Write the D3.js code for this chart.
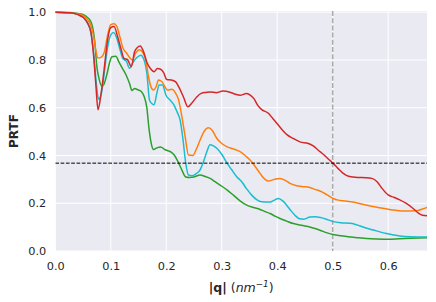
<!DOCTYPE html>
<html>
<head>
<meta charset="utf-8">
<script src="https://cdn.jsdelivr.net/npm/d3@7"></script>
<style>
  body { margin: 0; background: #fff; }
  text { font-family: "DejaVu Sans", sans-serif; fill: #262626; }
</style>
</head>
<body>
<div id="chart"></div>
<script>
// PRTF curves, [q, value] pairs
const redSeries = [[0,1.0],[0.02,0.998],[0.035,0.994],[0.045,0.985],[0.052,0.975],[0.058,0.955],[0.064,0.92],[0.069,0.82],[0.073,0.7],[0.077,0.592],[0.082,0.65],[0.088,0.76],[0.094,0.88],[0.1,0.935],[0.106,0.94],[0.112,0.9],[0.118,0.85],[0.124,0.806],[0.13,0.802],[0.137,0.772],[0.143,0.835],[0.148,0.852],[0.153,0.858],[0.159,0.835],[0.165,0.79],[0.171,0.765],[0.178,0.751],[0.184,0.764],[0.189,0.762],[0.195,0.748],[0.201,0.718],[0.209,0.716],[0.217,0.708],[0.223,0.685],[0.231,0.645],[0.239,0.604],[0.247,0.622],[0.255,0.645],[0.263,0.66],[0.272,0.664],[0.28,0.666],[0.29,0.663],[0.302,0.67],[0.315,0.665],[0.325,0.656],[0.333,0.652],[0.345,0.66],[0.352,0.652],[0.358,0.638],[0.365,0.61],[0.372,0.592],[0.384,0.577],[0.392,0.555],[0.4,0.533],[0.41,0.505],[0.418,0.486],[0.43,0.47],[0.442,0.456],[0.455,0.451],[0.465,0.44],[0.474,0.422],[0.483,0.405],[0.492,0.385],[0.501,0.367],[0.51,0.345],[0.519,0.325],[0.53,0.312],[0.545,0.308],[0.56,0.307],[0.572,0.303],[0.58,0.29],[0.588,0.265],[0.6,0.235],[0.61,0.225],[0.62,0.215],[0.632,0.2],[0.645,0.178],[0.655,0.158],[0.662,0.15],[0.67,0.148]];

const orangeSeries = [[0,1.0],[0.02,0.998],[0.035,0.995],[0.045,0.99],[0.052,0.983],[0.058,0.97],[0.064,0.945],[0.069,0.9],[0.073,0.84],[0.077,0.808],[0.083,0.812],[0.088,0.83],[0.094,0.9],[0.1,0.948],[0.106,0.952],[0.111,0.94],[0.116,0.9],[0.122,0.85],[0.128,0.83],[0.134,0.81],[0.139,0.8],[0.145,0.83],[0.152,0.843],[0.158,0.83],[0.163,0.8],[0.168,0.73],[0.172,0.69],[0.177,0.674],[0.182,0.69],[0.186,0.716],[0.192,0.71],[0.197,0.69],[0.202,0.674],[0.21,0.677],[0.217,0.66],[0.222,0.635],[0.228,0.565],[0.234,0.48],[0.24,0.402],[0.248,0.4],[0.254,0.425],[0.261,0.465],[0.268,0.5],[0.276,0.516],[0.283,0.505],[0.291,0.472],[0.3,0.45],[0.309,0.437],[0.32,0.428],[0.333,0.416],[0.343,0.398],[0.351,0.381],[0.36,0.355],[0.369,0.325],[0.377,0.302],[0.384,0.293],[0.395,0.3],[0.405,0.304],[0.415,0.295],[0.423,0.283],[0.435,0.273],[0.444,0.27],[0.459,0.266],[0.468,0.258],[0.477,0.251],[0.49,0.235],[0.501,0.22],[0.51,0.213],[0.519,0.21],[0.537,0.205],[0.55,0.198],[0.561,0.192],[0.575,0.185],[0.585,0.181],[0.6,0.175],[0.609,0.172],[0.625,0.168],[0.64,0.168],[0.654,0.17],[0.662,0.176],[0.67,0.182]];

const cyanSeries = [[0,1.0],[0.02,0.998],[0.035,0.994],[0.045,0.986],[0.052,0.975],[0.058,0.955],[0.064,0.915],[0.069,0.83],[0.074,0.7],[0.078,0.635],[0.083,0.66],[0.088,0.74],[0.094,0.85],[0.1,0.905],[0.105,0.915],[0.111,0.89],[0.117,0.84],[0.122,0.805],[0.128,0.795],[0.134,0.765],[0.14,0.79],[0.147,0.81],[0.154,0.82],[0.16,0.8],[0.165,0.745],[0.17,0.63],[0.174,0.618],[0.178,0.612],[0.183,0.66],[0.187,0.695],[0.193,0.695],[0.2,0.65],[0.207,0.632],[0.213,0.615],[0.219,0.585],[0.225,0.548],[0.23,0.47],[0.235,0.37],[0.24,0.318],[0.246,0.315],[0.253,0.322],[0.261,0.34],[0.268,0.38],[0.273,0.415],[0.279,0.445],[0.285,0.44],[0.291,0.43],[0.3,0.405],[0.309,0.37],[0.318,0.34],[0.327,0.311],[0.336,0.29],[0.345,0.26],[0.354,0.234],[0.363,0.215],[0.372,0.206],[0.387,0.205],[0.395,0.213],[0.402,0.22],[0.41,0.21],[0.417,0.192],[0.425,0.168],[0.432,0.15],[0.44,0.135],[0.448,0.133],[0.459,0.142],[0.468,0.143],[0.478,0.14],[0.49,0.132],[0.501,0.123],[0.515,0.118],[0.531,0.116],[0.54,0.112],[0.549,0.105],[0.56,0.096],[0.573,0.088],[0.585,0.08],[0.597,0.073],[0.61,0.067],[0.621,0.063],[0.64,0.06],[0.67,0.059]];

const greenSeries = [[0,1.0],[0.02,0.999],[0.035,0.997],[0.045,0.993],[0.052,0.988],[0.058,0.978],[0.063,0.965],[0.067,0.94],[0.071,0.88],[0.075,0.77],[0.079,0.72],[0.084,0.69],[0.088,0.7],[0.093,0.74],[0.098,0.79],[0.102,0.813],[0.109,0.815],[0.115,0.79],[0.121,0.765],[0.128,0.735],[0.134,0.7],[0.138,0.672],[0.143,0.68],[0.148,0.676],[0.155,0.668],[0.16,0.648],[0.165,0.6],[0.169,0.51],[0.173,0.45],[0.177,0.425],[0.183,0.432],[0.19,0.436],[0.197,0.425],[0.203,0.42],[0.21,0.412],[0.215,0.4],[0.222,0.37],[0.228,0.34],[0.235,0.31],[0.242,0.308],[0.25,0.31],[0.261,0.318],[0.27,0.312],[0.279,0.304],[0.288,0.29],[0.297,0.276],[0.31,0.255],[0.321,0.234],[0.333,0.21],[0.345,0.192],[0.357,0.182],[0.369,0.174],[0.378,0.165],[0.387,0.157],[0.396,0.146],[0.405,0.136],[0.417,0.125],[0.429,0.115],[0.441,0.109],[0.453,0.104],[0.465,0.096],[0.477,0.087],[0.49,0.076],[0.501,0.069],[0.515,0.064],[0.531,0.059],[0.545,0.055],[0.561,0.052],[0.58,0.05],[0.6,0.049],[0.62,0.051],[0.64,0.053],[0.67,0.055]];

const xTicks = [0, 0.1, 0.2, 0.3, 0.4, 0.5, 0.6];
const yTicks = [0, 0.2, 0.4, 0.6, 0.8, 1.0];
const threshold = 1 / Math.E;   // horizontal dashed line
const cutoffQ = 0.5;            // vertical dashed line

const width = 436, height = 302;
const margin = { top: 11, right: 9, bottom: 51, left: 55.3 };

const svg = d3.select("#chart").append("svg")
    .attr("width", width)
    .attr("height", height);

const x = d3.scaleLinear()
    .domain([0, 0.67])
    .range([margin.left, width - margin.right]);

const y = d3.scaleLinear()
    .domain([0, 1.005])
    .range([height - margin.bottom, margin.top]);

// background
svg.append("rect")
    .attr("x", margin.left)
    .attr("y", margin.top)
    .attr("width", x.range()[1] - x.range()[0])
    .attr("height", y.range()[0] - y.range()[1])
    .attr("fill", "#eaeaf2");

svg.append("clipPath").attr("id", "clip")
  .append("rect")
    .attr("x", margin.left)
    .attr("y", margin.top)
    .attr("width", x.range()[1] - x.range()[0])
    .attr("height", y.range()[0] - y.range()[1]);

// grid
svg.append("g")
    .selectAll("line")
    .data(xTicks)
    .enter().append("line")
    .attr("x1", d => x(d)).attr("x2", d => x(d))
    .attr("y1", margin.top).attr("y2", height - margin.bottom)
    .attr("stroke", "#fff").attr("stroke-width", 1);

svg.append("g")
    .selectAll("line")
    .data(yTicks)
    .enter().append("line")
    .attr("x1", margin.left).attr("x2", width - margin.right)
    .attr("y1", d => y(d)).attr("y2", d => y(d))
    .attr("stroke", "#fff").attr("stroke-width", 1);

// axes (labels only, seaborn darkgrid style)
const xAxis = svg.append("g")
    .attr("transform", "translate(0," + (height - margin.bottom) + ")")
    .call(d3.axisBottom(x).tickValues(xTicks).tickFormat(d3.format(".1f")).tickSize(0).tickPadding(11));
const yAxis = svg.append("g")
    .attr("transform", "translate(" + margin.left + ",0)")
    .call(d3.axisLeft(y).tickValues(yTicks).tickFormat(d3.format(".1f")).tickSize(0).tickPadding(9));
[xAxis, yAxis].forEach(a => {
    a.select(".domain").remove();
    a.selectAll("text")
        .style("font-family", "DejaVu Sans, sans-serif")
        .style("font-size", "11.3px")
        .attr("fill", "#262626");
});

const line = d3.line()
    .x(d => x(d[0]))
    .y(d => y(d[1]))
    .curve(d3.curveMonotoneX);

const plot = svg.append("g").attr("clip-path", "url(#clip)");

// reference lines
plot.append("line")
    .attr("x1", x(cutoffQ)).attr("x2", x(cutoffQ))
    .attr("y1", margin.top).attr("y2", height - margin.bottom)
    .attr("stroke", "#aaaaaa").attr("stroke-width", 1.5)
    .attr("stroke-dasharray", "5,2.2");

const series = [
    { data: greenSeries, color: "#2ca02c" },
    { data: cyanSeries, color: "#17becf" },
    { data: orangeSeries, color: "#ff7f0e" },
    { data: redSeries, color: "#d62728" }
];

series.forEach(s => {
    plot.append("path")
        .datum(s.data)
        .attr("d", line)
        .attr("fill", "none")
        .attr("stroke", s.color)
        .attr("stroke-width", 1.5)
        .attr("stroke-linejoin", "round");
});

plot.append("line")
    .attr("x1", margin.left).attr("x2", width - margin.right)
    .attr("y1", y(threshold)).attr("y2", y(threshold))
    .attr("stroke", "#000").attr("stroke-width", 1)
    .attr("stroke-dasharray", "3.7,1.6");

// axis titles
const xLabel = svg.append("text")
    .attr("x", (x.range()[0] + x.range()[1]) / 2)
    .attr("y", 291.5)
    .attr("text-anchor", "middle")
    .style("font-size", "12.5px");
xLabel.append("tspan").style("font-weight", "bold").text("|q|");
xLabel.append("tspan").text(" (");
xLabel.append("tspan").style("font-style", "italic").text("nm");
xLabel.append("tspan").style("font-style", "italic").style("font-size", "8.8px").attr("dy", -5).text("−1");
xLabel.append("tspan").attr("dy", 5).text(")");

svg.append("text")
    .attr("transform", "translate(18," + ((y.range()[0] + y.range()[1]) / 2) + ") rotate(-90)")
    .attr("text-anchor", "middle")
    .style("font-size", "12px")
    .style("font-weight", "bold")
    .text("PRTF");
</script>
</body>
</html>
